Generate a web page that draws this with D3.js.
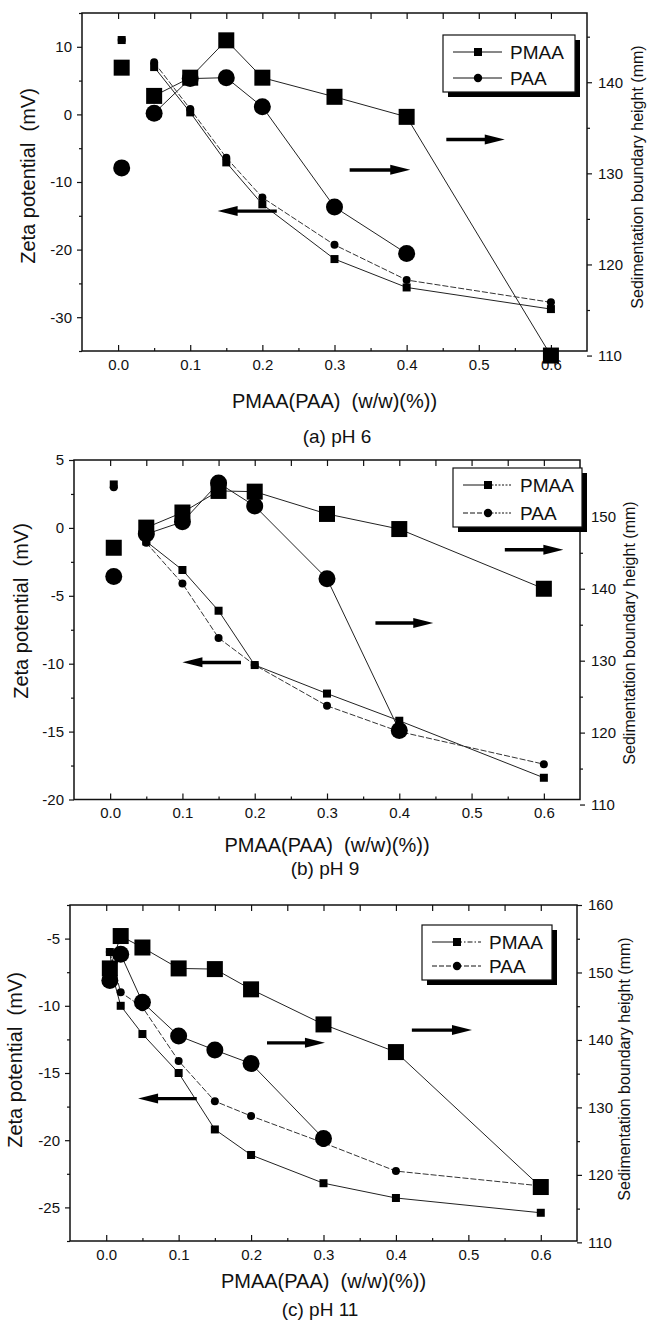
<!DOCTYPE html>
<html>
<head>
<meta charset="utf-8">
<title>Zeta potential / sedimentation height</title>
<script src="https://cdnjs.cloudflare.com/ajax/libs/d3/7.8.5/d3.min.js"></script>
<style>
	body { margin: 0; background: #fff; }
	svg { display: block; font-family: "Liberation Sans", Arial, sans-serif; }
	svg text { white-space: pre; }
	.tick text { font-size: 15px; fill: #111; }
	.tick line { stroke: #111; stroke-width: 1.2; }
</style>
</head>
<body>
<script>
// ---- data ----
var xTicks = [0, 0.1, 0.2, 0.3, 0.4, 0.5, 0.6];
var xTickLabels = ["0.0", "0.1", "0.2", "0.3", "0.4", "0.5", "0.6"];
var xMinor = [0.05, 0.15, 0.25, 0.35, 0.45, 0.55];
var seriesNames = ["PMAA", "PAA"];

// (a) pH 6
var xA = [0.005, 0.05, 0.1, 0.15, 0.2, 0.3, 0.4, 0.6];
var zetaPmaaA = [11.0, 7.0, 0.3, -7.1, -13.3, -21.4, -25.6, -28.8];
var zetaPaaA = [11.0, 7.7, 0.8, -6.4, -12.3, -19.3, -24.5, -27.8];
var hPmaaA = [141.6, 138.5, 140.5, 144.6, 140.5, 138.4, 136.2, 110.0];
var hPaaA = [130.6, 136.6, 140.4, 140.5, 137.3, 126.3, 121.2, null];
var zetaTicksA = [-30, -20, -10, 0, 10];
var hTicksA = [110, 120, 130, 140];
var arrowsA = [[0.455, 0.536, -3.7], [0.321, 0.405, -8.2], [0.220, 0.138, -14.3]];

// (b) pH 9
var xB = [0.005, 0.05, 0.1, 0.15, 0.2, 0.3, 0.4, 0.6];
var zetaPmaaB = [3.2, -1.0, -3.1, -6.1, -10.1, -12.2, -14.2, -18.4];
var zetaPaaB = [3.0, -1.1, -4.1, -8.1, -10.1, -13.1, -15.0, -17.4];
var hPmaaB = [145.7, 148.5, 150.6, 153.6, 153.5, 150.4, 148.3, 140.0];
var hPaaB = [141.7, 147.6, 149.3, 154.7, 151.5, 141.4, 120.3, null];
var zetaTicksB = [-20, -15, -10, -5, 0, 5];
var hTicksB = [110, 120, 130, 140, 150];
var arrowsB = [[0.546, 0.627, -1.6], [0.367, 0.447, -7.0], [0.181, 0.100, -9.9]];

// (c) pH 11
var xC = [0.005, 0.01, 0.02, 0.05, 0.1, 0.15, 0.2, 0.3, 0.4, 0.6];
var zetaPmaaC = [-6.0, -8.0, -10.0, -12.1, -15.0, -19.2, -21.1, -23.2, -24.3, -25.4];
var zetaPaaC = [-6.0, null, -9.0, -10.1, -14.1, -17.1, -18.2, -20.2, -22.3, -23.4];
var hPmaaC = [150.6, null, 155.4, 153.7, 150.6, 150.5, 147.5, 142.3, 138.2, 118.2];
var hPaaC = [148.8, null, 152.7, 145.6, 140.6, 138.5, 136.5, 125.4, null, null];
var zetaTicksC = [-25, -20, -15, -10, -5];
var hTicksC = [110, 120, 130, 140, 150, 160];
var arrowsC = [[0.422, 0.505, -11.8], [0.222, 0.302, -12.75], [0.125, 0.044, -16.9]];

// ---- layout ----
var W = 652, H = 1328;
var panels = [
	{x: xA, zp: zetaPmaaA, za: zetaPaaA, hp: hPmaaA, ha: hPaaA, zt: zetaTicksA, zstep: 5, ht: hTicksA, arrows: arrowsA,
		linkFrom: 1, zDom: [-35, 15], hDom: [110.5, 147.6], caption: "(a) pH 6",
		box: [82, 13, 587, 351], legend: [443, 35, 132, 57], legendStyle: "a",
		zLab: [35, 176], hLab: [643, 177], xLab: 408, cap: 443, capX: 337},
	{x: xB, zp: zetaPmaaB, za: zetaPaaB, hp: hPmaaB, ha: hPaaB, zt: zetaTicksB, zstep: 2.5, ht: hTicksB, arrows: arrowsB,
		linkFrom: 1, zDom: [-20, 5], hDom: [110.7, 157.9], caption: "(b) pH 9",
		box: [74, 460, 580, 799.5], legend: [453, 468, 129, 59], legendStyle: "b",
		zLab: [28, 611], hLab: [635, 633], xLab: 852, cap: 875, capX: 325},
	{x: xC, zp: zetaPmaaC, za: zetaPaaC, hp: hPmaaC, ha: hPaaC, zt: zetaTicksC, zstep: 2.5, ht: hTicksC, arrows: arrowsC,
		linkFrom: 0, zDom: [-27.5, -2.5], hDom: [110.2, 160], caption: "(c) pH 11",
		box: [70, 905, 577, 1241], legend: [422, 925, 130, 55], legendStyle: "c",
		zLab: [22, 1060], hLab: [630, 1069], xLab: 1288, cap: 1316, capX: 320}
];

var svg = d3.select("body").append("svg")
	.attr("width", W)
	.attr("height", H);

function minors(ticks, step, dom) {
	var out = [];
	var lo = Math.min(dom[0], dom[1]), hi = Math.max(dom[0], dom[1]);
	for (var v = Math.ceil(lo / step) * step; v <= hi + 1e-9; v += step) {
		var r = Math.round(v * 100) / 100;
		if (ticks.indexOf(r) < 0) out.push(r);
	}
	return out;
}

var plain = function(d) { return String(d); };

function drawPanel(p, k) {
	var L = p.box[0], T = p.box[1], R = p.box[2], B = p.box[3];
	var x = d3.scaleLinear().domain([-0.05, 0.65]).range([L, R]);
	var yz = d3.scaleLinear().domain(p.zDom).range([B, T]);
	var yh = d3.scaleLinear().domain(p.hDom).range([B, T]);
	var g = svg.append("g").attr("class", "panel" + k);

	// bottom axis (inward ticks + labels), top axis (inward ticks)
	g.append("g").attr("transform", "translate(0," + B + ")")
		.call(d3.axisBottom(x).tickValues(xMinor).tickSize(-3).tickFormat(""));
	g.append("g").attr("transform", "translate(0," + B + ")")
		.call(d3.axisBottom(x).tickValues(xTicks).tickSize(-6).tickPadding(8)
			.tickFormat(function(d, i) { return xTickLabels[i]; }));
	g.append("g").attr("transform", "translate(0," + T + ")")
		.call(d3.axisTop(x).tickValues(xTicks.concat(xMinor)).tickSize(-6).tickFormat(""));

	// left zeta axis
	g.append("g").attr("transform", "translate(" + L + ",0)")
		.call(d3.axisLeft(yz).tickValues(minors(p.zt, p.zstep, p.zDom)).tickSize(3).tickFormat(""));
	g.append("g").attr("transform", "translate(" + L + ",0)")
		.call(d3.axisLeft(yz).tickValues(p.zt).tickSize(5).tickPadding(5).tickFormat(plain));
	// right height axis
	g.append("g").attr("transform", "translate(" + R + ",0)")
		.call(d3.axisRight(yh).tickValues(minors(p.ht, 5, p.hDom)).tickSize(3).tickFormat(""));
	g.append("g").attr("transform", "translate(" + R + ",0)")
		.call(d3.axisRight(yh).tickValues(p.ht).tickSize(5).tickPadding(6).tickFormat(plain));

	g.selectAll(".domain").remove();

	// frame
	g.append("rect")
		.attr("x", L).attr("y", T)
		.attr("width", R - L).attr("height", B - T)
		.attr("fill", "none").attr("stroke", "#111").attr("stroke-width", 1.5);

	// lines
	var idx = d3.range(p.x.length).filter(function(i) { return i >= p.linkFrom; });
	function pts(arr) {
		return idx.filter(function(i) { return arr[i] != null; })
			.map(function(i) { return [p.x[i], arr[i]]; });
	}
	var lz = d3.line().x(function(d) { return x(d[0]); }).y(function(d) { return yz(d[1]); });
	var lh = d3.line().x(function(d) { return x(d[0]); }).y(function(d) { return yh(d[1]); });
	g.append("path").attr("d", lh(pts(p.hp))).attr("fill", "none").attr("stroke", "#222").attr("stroke-width", 1);
	g.append("path").attr("d", lh(pts(p.ha))).attr("fill", "none").attr("stroke", "#222").attr("stroke-width", 1);
	g.append("path").attr("d", lz(pts(p.zp))).attr("fill", "none").attr("stroke", "#222").attr("stroke-width", 1);
	g.append("path").attr("d", lz(pts(p.za))).attr("fill", "none").attr("stroke", "#333").attr("stroke-width", 1)
		.attr("stroke-dasharray", "6,2");

	// markers
	function squares(arr, sc, s) {
		g.selectAll(null).data(d3.range(arr.length).filter(function(i) { return arr[i] != null; }))
			.enter().append("rect")
			.attr("x", function(i) { return x(p.x[i]) - s / 2; })
			.attr("y", function(i) { return sc(arr[i]) - s / 2; })
			.attr("width", s).attr("height", s).attr("fill", "#000");
	}
	function circles(arr, sc, r) {
		g.selectAll(null).data(d3.range(arr.length).filter(function(i) { return arr[i] != null; }))
			.enter().append("circle")
			.attr("cx", function(i) { return x(p.x[i]); })
			.attr("cy", function(i) { return sc(arr[i]); })
			.attr("r", r).attr("fill", "#000");
	}
	squares(p.hp, yh, 16);
	circles(p.ha, yh, 8.5);
	circles(p.za, yz, 4);
	squares(p.zp, yz, 8);

	// arrows (tail x, head x, level on the zeta axis)
	p.arrows.forEach(function(a) {
		var x1 = x(a[0]), x2 = x(a[1]), y = yz(a[2]);
		var hl = 20 * (x2 > x1 ? 1 : -1);
		g.append("path")
			.attr("d", "M" + x1 + "," + (y - 1.6) + "L" + (x2 - hl) + "," + (y - 1.6) +
				"L" + (x2 - hl) + "," + (y - 5) + "L" + x2 + "," + y + "L" + (x2 - hl) + "," + (y + 5) +
				"L" + (x2 - hl) + "," + (y + 1.8) + "L" + x1 + "," + (y + 1.8) + "Z")
			.attr("fill", "#000");
	});

	// legend with drop shadow
	var lx = p.legend[0], ly = p.legend[1], lw = p.legend[2], lhh = p.legend[3];
	g.append("rect").attr("x", lx + 5).attr("y", ly + 5).attr("width", lw).attr("height", lhh).attr("fill", "#000");
	g.append("rect").attr("x", lx).attr("y", ly).attr("width", lw).attr("height", lhh)
		.attr("fill", "#fff").attr("stroke", "#111").attr("stroke-width", 1.2);
	// dash pattern of the left / right half of each legend sample line
	var dashes = {
		a: [[null, null], [null, null]],
		b: [[null, "2,1.5"], ["5,2", "2,1.5"]],
		c: [[null, "5,2,1.5,2"], ["5,2", "5,2"]]
	};
	seriesNames.forEach(function(name, j) {
		var yy = ly + 17 + j * (lhh - 31);
		var st = dashes[p.legendStyle][j];
		g.append("line").attr("x1", lx + 10).attr("x2", lx + 35).attr("y1", yy).attr("y2", yy)
			.attr("stroke", "#111").attr("stroke-dasharray", st[0]);
		g.append("line").attr("x1", lx + 35).attr("x2", lx + 59).attr("y1", yy).attr("y2", yy)
			.attr("stroke", "#111").attr("stroke-dasharray", st[1]);
		if (j === 0) {
			g.append("rect").attr("x", lx + 31).attr("y", yy - 4).attr("width", 8).attr("height", 8).attr("fill", "#000");
		} else {
			g.append("circle").attr("cx", lx + 35).attr("cy", yy).attr("r", 4.2).attr("fill", "#000");
		}
		g.append("text").attr("x", lx + 67).attr("y", yy + 7)
			.attr("font-size", 19).attr("fill", "#111").text(name);
	});

	// axis titles and caption
	g.append("text")
		.attr("transform", "translate(" + p.zLab[0] + "," + p.zLab[1] + ") rotate(-90)")
		.attr("text-anchor", "middle")
		.attr("font-size", 20).attr("fill", "#111").text("Zeta potential  (mV)");
	g.append("text")
		.attr("transform", "translate(" + p.hLab[0] + "," + p.hLab[1] + ") rotate(-90)")
		.attr("text-anchor", "middle")
		.attr("font-size", 16).attr("fill", "#111").text("Sedimentation boundary height (mm)");
	g.append("text")
		.attr("x", (L + R) / 2).attr("y", p.xLab)
		.attr("text-anchor", "middle")
		.attr("font-size", 20).attr("fill", "#111").text("PMAA(PAA)  (w/w)(%))");
	g.append("text")
		.attr("x", p.capX).attr("y", p.cap)
		.attr("text-anchor", "middle")
		.attr("font-size", 19).attr("fill", "#111").text(p.caption);
}

panels.forEach(drawPanel);
</script>
</body>
</html>
